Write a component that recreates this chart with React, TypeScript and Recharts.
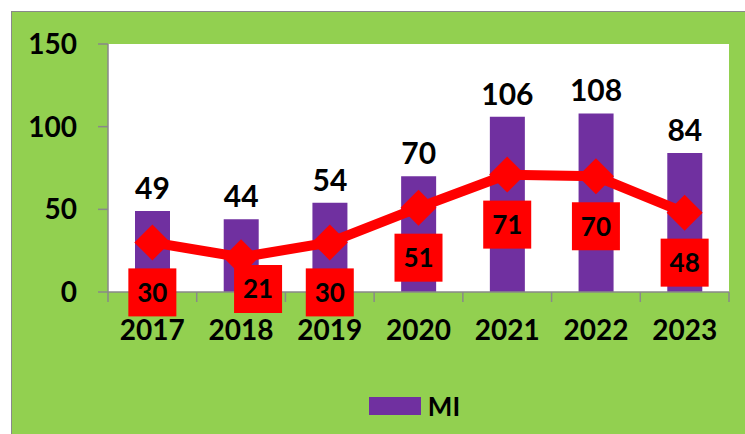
import { ComposedChart, Bar, Line, XAxis, YAxis, CartesianGrid, Legend, LabelList } from 'recharts';

const years = ['2017', '2018', '2019', '2020', '2021', '2022', '2023'];
const miValues = [49, 44, 54, 70, 106, 108, 84];
const lineValues = [30, 21, 30, 51, 71, 70, 48];
const yTicks = [0, 50, 100, 150];

const data = years.map((year, i) => ({ year, mi: miValues[i], line: lineValues[i] }));

const FONT = 'Lato, "Open Sans", sans-serif';
const GREEN = '#92D050';
const PURPLE = '#7030A0';
const RED = '#FF0000';
const AXIS = '#898989';

const CHART_W = 733;
const CHART_H = 422;
const MARGIN = { top: 32, right: 16, left: 0, bottom: 13 };
const Y_W = 96;
const PLOT_W = CHART_W - MARGIN.left - MARGIN.right - Y_W;
const BAND = PLOT_W / years.length;
const PLOT_BOTTOM = CHART_H - MARGIN.bottom - 30 - 99;

const XTick = (props: any) => {
  const { x, y, payload, index } = props;
  const left = x - BAND / 2;
  return (
    <g>
      <line x1={left} y1={y} x2={left} y2={y + 10} stroke={AXIS} strokeWidth={1.5} />
      {index === years.length - 1 && (
        <line x1={x + BAND / 2} y1={y} x2={x + BAND / 2} y2={y + 10} stroke={AXIS} strokeWidth={1.5} />
      )}
      <text x={x} y={y + 38} dy="0.36em" textAnchor="middle" fontFamily={FONT} fontWeight={700} fontSize={28} fill="#000">
        {payload.value}
      </text>
    </g>
  );
};

const Diamond = (props: any) => {
  const { cx, cy, index } = props;
  if (cx == null || cy == null) return null;
  const r = 18;
  return (
    <polygon
      key={`d-${index}`}
      points={`${cx},${cy - r} ${cx + r},${cy} ${cx},${cy + r} ${cx - r},${cy}`}
      fill={RED}
    />
  );
};

// boxes sit 50px under the point; if that would run into the year labels, nudge it up and aside
const BoxLabel = (props: any) => {
  const { x, y, value } = props;
  let cx = x;
  let cy = y + 50;
  if (cy + 24 > PLOT_BOTTOM + 28) {
    cy = PLOT_BOTTOM - 3;
    cx = x + 17;
  }
  return (
    <g>
      <rect x={cx - 24} y={cy - 24} width={48} height={48} fill={RED} />
      <text x={cx} y={cy} dy="0.36em" textAnchor="middle" fontFamily={FONT} fontWeight={700} fontSize={26} fill="#000">
        {value}
      </text>
    </g>
  );
};

const TopLabel = (props: any) => {
  const { x, y, width, value } = props;
  return (
    <text x={x + width / 2} y={y - 12} textAnchor="middle" fontFamily={FONT} fontWeight={700} fontSize={30} fill="#000">
      {value}
    </text>
  );
};

const LegendContent = () => (
  <div style={{ height: 30, display: 'flex', alignItems: 'center', justifyContent: 'center', paddingRight: 8 }}>
    <span style={{ display: 'inline-block', width: 52, height: 18, background: PURPLE, marginRight: 7 }} />
    <span style={{ fontFamily: FONT, fontWeight: 700, fontSize: 26, color: '#000' }}>MI</span>
  </div>
);

export default function App() {
  return (
    <div
      style={{
        position: 'absolute',
        left: 11,
        top: 11,
        width: 734,
        height: 423,
        boxSizing: 'border-box',
        background: GREEN,
        borderTop: `1.5px solid ${AXIS}`,
        borderLeft: `1.5px solid ${AXIS}`,
      }}
    >
      <ComposedChart width={CHART_W} height={CHART_H} data={data} margin={MARGIN}>
        <CartesianGrid horizontal={false} vertical={false} fill="#fff" stroke="none" />
        <XAxis
          dataKey="year"
          height={99}
          axisLine={{ stroke: AXIS, strokeWidth: 1.5 }}
          tickLine={false}
          tickSize={0}
          tickMargin={0}
          tick={<XTick />}
          interval={0}
        />
        <YAxis
          width={Y_W}
          domain={[0, 150]}
          ticks={yTicks}
          axisLine={{ stroke: AXIS, strokeWidth: 1.5 }}
          tickLine={{ stroke: AXIS, strokeWidth: 1.5 }}
          tickSize={10}
          tickMargin={21}
          tick={{ fontFamily: FONT, fontWeight: 700, fontSize: 28, fill: '#000' }}
        />
        <Legend
          verticalAlign="bottom"
          content={<LegendContent />}
          wrapperStyle={{ left: 96, width: 621 }}
        />
        <Bar dataKey="mi" name="MI" fill={PURPLE} barSize={35} isAnimationActive={false}>
          <LabelList dataKey="mi" content={<TopLabel />} />
        </Bar>
        <Line
          dataKey="line"
          stroke={RED}
          strokeWidth={10}
          dot={<Diamond />}
          activeDot={false}
          legendType="none"
          isAnimationActive={false}
        >
          <LabelList dataKey="line" content={<BoxLabel />} />
        </Line>
      </ComposedChart>
    </div>
  );
}
